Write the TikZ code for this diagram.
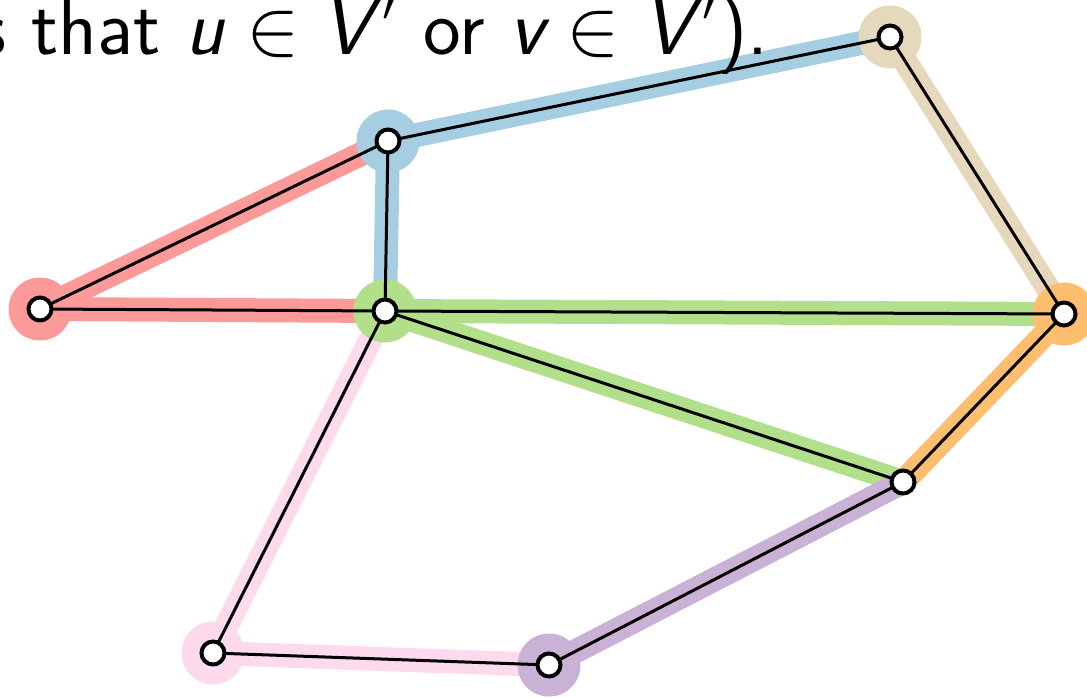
\RequirePackage{fix-cm}
\documentclass[tikz,border=0pt]{standalone}
\usepackage{fontspec}
\definecolor{cblue}{HTML}{A6CEE3}
\definecolor{cgreen}{HTML}{B2DF8A}
\definecolor{cred}{HTML}{FB9A99}
\definecolor{corange}{HTML}{FDBF6F}
\definecolor{cpurple}{HTML}{CAB2D6}
\definecolor{ctan}{HTML}{E5D8BD}
\definecolor{cpink}{HTML}{FDDAEC}
\begin{document}
\begin{tikzpicture}[x=1pt,y=-1pt,
  vtx/.style={circle,draw=black,fill=white,line width=4pt,minimum size=23pt,inner sep=0pt},
  halo/.style={circle,fill=#1,minimum size=63pt,inner sep=0pt},
  cedge/.style={draw=#1,line width=24pt},
  bedge/.style={draw=black,line width=3pt}]
\useasboundingbox (0,0) rectangle (1087,698);
\coordinate (A) at (388,141);
\coordinate (B) at (890,37);
\coordinate (C) at (40,309);
\coordinate (D) at (385,311);
\coordinate (E) at (1064,314);
\coordinate (F) at (903,482);
\coordinate (G) at (213,653);
\coordinate (H) at (549,665);
% colored edges
\path[cedge=cblue] (A) -- (B);
\path[cedge=cblue] (A) -- (D);
\path[cedge=cred] (A) -- (C);
\path[cedge=cred] (C) -- (D);
\path[cedge=cgreen] (D) -- (E);
\path[cedge=cgreen] (D) -- (F);
\path[cedge=cpink] (D) -- (G);
\path[cedge=cpink] (G) -- (H);
\path[cedge=ctan] (B) -- (E);
\path[cedge=corange] (E) -- (F);
\path[cedge=cpurple] (F) -- (H);
% halos
\node[halo=cblue] (hA) at (A) {};
\node[halo=ctan] (hB) at (B) {};
\node[halo=cred] (hC) at (C) {};
\node[halo=cgreen] (hD) at (D) {};
\node[halo=corange] (hE) at (E) {};
\node[halo=cpink] (hG) at (G) {};
\node[halo=cpurple] (hH) at (H) {};
% black edges
\path[bedge] (A) -- (B) (A) -- (D) (A) -- (C) (C) -- (D) (D) -- (E) (D) -- (F)
  (D) -- (G) (G) -- (H) (B) -- (E) (E) -- (F) (F) -- (H);
% text
\node[anchor=base east,inner sep=0pt,font=\sffamily\fontsize{80}{94}\selectfont] (txt) at (769,55)
  {s that $\textit{u} \in \textit{V\/}'$ or $\textit{v} \in \textit{V\/}'$).};
% vertices
\foreach \n in {A,B,C,D,E,F,G,H} \node[vtx] (v\n) at (\n) {};
\end{tikzpicture}
\end{document}
